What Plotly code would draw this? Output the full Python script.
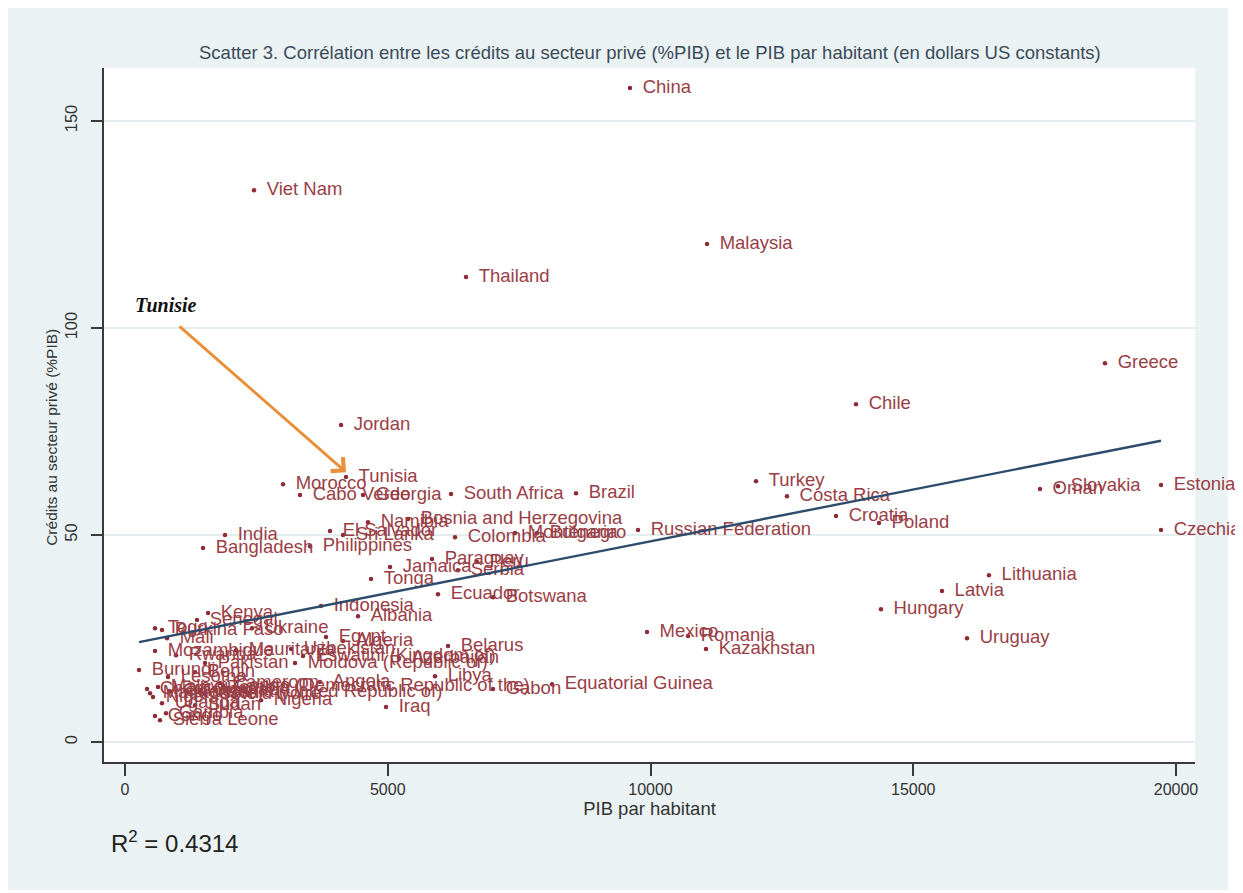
import plotly.graph_objects as go

# ---------------- data ----------------
countries = [
    "China", "Viet Nam", "Malaysia", "Thailand", "Greece", "Chile", "Jordan",
    "Tunisia", "Morocco", "Cabo Verde", "Georgia", "South Africa", "Brazil",
    "Turkey", "Costa Rica", "Croatia", "Poland", "Russian Federation",
    "Oman", "Slovakia", "Estonia", "Czechia", "Lithuania", "Latvia", "Hungary",
    "Uruguay", "Mexico", "Romania", "Kazakhstan", "Equatorial Guinea", "Gabon",
    "Belarus", "Libya", "Iraq", "Indonesia", "Albania", "Ecuador", "Botswana",
    "Egypt", "Algeria", "Uzbekistan", "Eswatini (Kingdom of)", "Moldova (Republic of)",
    "Azerbaijan", "India", "Bangladesh", "Philippines", "El Salvador", "Sri Lanka",
    "Namibia", "Bosnia and Herzegovina", "Colombia", "Montenegro", "Bulgaria",
    "Paraguay", "Peru", "Jamaica", "Serbia", "Tonga",
    "Kenya", "Senegal", "Ukraine", "Togo", "Burkina Faso", "Mali",
    "Mozambique", "Rwanda", "Mauritania", "Pakistan", "Burundi", "Lesotho", "Benin",
    "Angola", "Congo (Democratic Republic of the)", "Tanzania (United Republic of)",
    "Cameroon", "Chad", "Madagascar", "Niger", "Malawi", "Uganda", "Guinea",
    "Ghana", "Zambia", "Côte d'Ivoire", "Nigeria", "Sudan", "Congo", "Sierra Leone",
    "Gambia",
]
pib_habitant = [
    9610, 2455, 11075, 6489, 18649, 13911, 4110,
    4205, 3007, 3330, 4529, 6204, 8582,
    12008, 12597, 13530, 14348, 9762,
    17412, 17755, 19715, 19715, 16441, 15547, 14386,
    16023, 9933, 10714, 11056, 8126, 7003,
    6147, 5899, 4967, 3730, 4434, 5956, 7003,
    3825, 4148, 3160, 3387, 3235,
    5214, 1903, 1484, 3520, 3901, 4148,
    4624, 5385, 6280, 7422, 7840,
    5842, 6698, 5043, 6337, 4681,
    1580, 1370, 2417, 571, 704, 800,
    571, 970, 2112, 1522, 266, 818, 1332,
    3710, 1865, 1180,
    1808, 419, 476, 533, 628, 704, 856,
    1427, 1713, 1522, 2588, 1332, 571, 666,
    780,
]
credits_prive = [
    158.0, 133.3, 120.3, 112.3, 91.5, 81.6, 76.6,
    64.0, 62.3, 59.7, 59.7, 59.9, 60.1,
    63.0, 59.4, 54.6, 52.9, 51.2,
    61.1, 61.8, 62.1, 51.2, 40.3, 36.5, 32.1,
    25.1, 26.6, 25.6, 22.5, 14.0, 12.8,
    23.2, 15.9, 8.5, 32.9, 30.4, 35.7, 35.0,
    25.4, 24.4, 22.5, 20.8, 19.1,
    20.3, 50.0, 46.9, 47.3, 51.0, 50.0,
    53.1, 53.9, 49.5, 50.5, 50.5,
    44.2, 43.5, 42.3, 41.5, 39.4,
    31.2, 29.5, 27.5, 27.5, 27.1, 25.1,
    22.0, 21.0, 22.2, 19.1, 17.4, 15.7, 16.9,
    14.5, 13.5, 12.1,
    14.3, 12.8, 11.8, 10.9, 13.3, 9.4, 12.3,
    12.6, 13.0, 11.6, 10.1, 8.9, 6.3, 5.3,
    7.0,
]

# fitted line
fit_intercept = 23.5
fit_slope = 0.0025
r2_text = "0.4314"

x_ticks = [0, 5000, 10000, 15000, 20000]
y_ticks = [0, 50, 100, 150]

title_text = ("Scatter 3. Corrélation entre les crédits au secteur privé (%PIB) "
              "et le PIB par habitant (en dollars US constants)")
x_title = "PIB par habitant"
y_title = "Crédits au secteur privé (%PIB)"
highlight = "Tunisia"
highlight_label = "Tunisie"
arrow_tail = (1009, 100.7)
highlight_text_pos = (780, 105.5)

# ---------------- styles ----------------
FONT = "Liberation Sans, Arial, sans-serif"
MARKER_COL = "#8E2B38"
LABEL_COL = "#9A3E46"
LINE_COL = "#2D4B6B"
BG_COL = "#EAF2F3"
GRID_COL = "#E3EDEF"
AXIS_COL = "#3A3A3A"
PAD = "\u00a0\u2009"

fig = go.Figure()

fig.add_trace(go.Scatter(
    x=pib_habitant, y=credits_prive, mode="markers+text",
    text=[PAD + c for c in countries], textposition="middle right",
    textfont=dict(family=FONT, size=18.5, color=LABEL_COL),
    marker=dict(size=4.5, color=MARKER_COL),
    cliponaxis=False, hoverinfo="text", showlegend=False,
))

xmin, xmax = min(pib_habitant), max(pib_habitant)
fig.add_trace(go.Scatter(
    x=[xmin, xmax],
    y=[fit_intercept + fit_slope * xmin, fit_intercept + fit_slope * xmax],
    mode="lines", line=dict(color=LINE_COL, width=2.4),
    hoverinfo="skip", showlegend=False,
))

i_h = countries.index(highlight)
annotations = [
    dict(x=pib_habitant[i_h], y=credits_prive[i_h] + 1.2, xref="x", yref="y",
         ax=arrow_tail[0], ay=arrow_tail[1], axref="x", ayref="y",
         showarrow=True, arrowhead=4, arrowsize=1.2, arrowwidth=3,
         arrowcolor="#E98F3A", standoff=0, text=""),
    dict(x=highlight_text_pos[0], y=highlight_text_pos[1], xref="x", yref="y",
         text="<b><i>" + highlight_label + "</i></b>", showarrow=False,
         font=dict(family="Liberation Serif, Times New Roman, serif", size=20, color="#111111")),
    dict(x=0.005, y=-0.115, xref="paper", yref="paper", xanchor="left", yanchor="middle",
         text="R<sup>2</sup> = " + r2_text, showarrow=False,
         font=dict(family=FONT, size=24, color="#222222")),
    dict(x=0.5, y=1.0, xref="paper", yref="paper", xanchor="center", yanchor="bottom",
         yshift=3, text=title_text, showarrow=False,
         font=dict(family=FONT, size=18.5, color="#3B4A5A")),
    dict(x=-0.048, y=0.468, xref="paper", yref="paper", xanchor="center", yanchor="middle",
         text=y_title, textangle=-90, showarrow=False,
         font=dict(family=FONT, size=15.5, color="#333333")),
]

shapes = [
    # white strip at the right edge of the page, under the labels that overflow it
    dict(type="rect", xref="paper", yref="paper", x0=1.0302, x1=1.06,
         y0=-0.3, y1=1.3, fillcolor="white", line=dict(width=0), layer="below"),
]

fig.update_layout(
    width=1235, height=882,
    margin=dict(l=96, r=48, t=60, b=128),
    paper_bgcolor=BG_COL, plot_bgcolor="white",
    font=dict(family=FONT, color="#333333"),
    annotations=annotations, shapes=shapes,
    xaxis=dict(
        range=[-400, 20362], tickvals=x_ticks, ticktext=[str(v) for v in x_ticks],
        showgrid=False, zeroline=False, showline=True, linecolor=AXIS_COL, linewidth=1.5,
        ticks="outside", ticklen=12, tickcolor=AXIS_COL, tickwidth=1.5,
        tickfont=dict(family=FONT, size=16, color="#333333"),
        title=dict(text=x_title, font=dict(family=FONT, size=18.5, color="#333333"), standoff=3),
        automargin=False,
    ),
    yaxis=dict(
        range=[-4.8, 162.8], tickvals=y_ticks, ticktext=[str(v) for v in y_ticks],
        showgrid=True, gridcolor=GRID_COL, gridwidth=2, zeroline=False,
        showline=True, linecolor=AXIS_COL, linewidth=1.5,
        ticks="outside", ticklen=11, tickcolor=AXIS_COL, tickwidth=1.5, tickangle=-90,
        ticklabelstandoff=8,
        tickfont=dict(family=FONT, size=16.5, color="#333333"),
        automargin=False,
    ),
)

fig.write_html("out.html")
